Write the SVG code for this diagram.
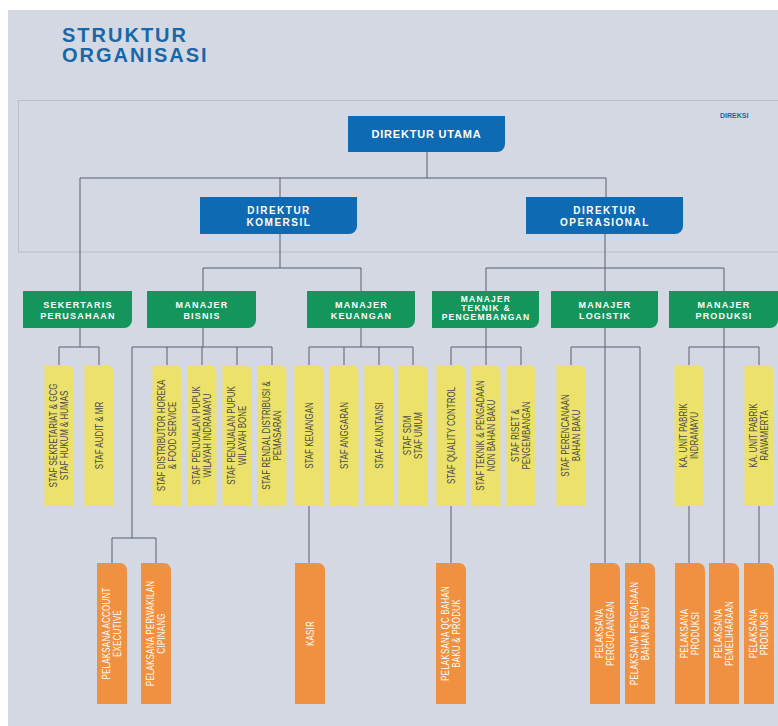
<svg xmlns="http://www.w3.org/2000/svg" width="778" height="726" viewBox="0 0 778 726">
<style>
.bg{fill:#d4d8e2}
.frame{fill:none;stroke:#b9bdc7;stroke-width:1}
.title{font-family:"Liberation Sans",Arial,sans-serif;font-weight:bold;font-size:20px;letter-spacing:2px;fill:#1767a9}
.dir{fill:#0d6ab3}
.mgr{fill:#13955b}
.staff{fill:#ebe16b}
.pel{fill:#ef9140}
.wt{font-family:"Liberation Sans",Arial,sans-serif;font-weight:bold;fill:#ffffff;text-anchor:middle}
.t10{font-size:10px;letter-spacing:1.5px}
.t9{font-size:9px;letter-spacing:1.2px}
.t85{font-size:8.5px;letter-spacing:1.2px}
.st{font-family:"Liberation Sans",Arial,sans-serif;font-size:10.5px;fill:#4a4a3e;text-anchor:middle}
.pt{font-family:"Liberation Sans",Arial,sans-serif;font-size:10.5px;fill:#ffffff;text-anchor:middle;letter-spacing:0.3px}
.con{fill:none;stroke:#59606c;stroke-width:1}
.lbl{font-family:"Liberation Sans",Arial,sans-serif;font-weight:bold;font-size:7px;fill:#1767a9}
</style>
<rect x="0" y="0" width="778" height="726" fill="#ffffff"/>
<rect class="bg" x="8" y="10" width="770" height="716"/>
<text class="title" x="62" y="42">STRUKTUR</text>
<text class="title" x="62" y="62">ORGANISASI</text>
<rect class="frame" x="18.5" y="100.5" width="770" height="151.5"/>
<text class="lbl" x="720" y="118">DIREKSI</text>

<g id="connectors" class="con">
<path d="M427 152V178M80 178H606M80 178V291M280 178V197M606 178V197"/>
<path d="M280 234V268M203 268H361M203 268V291M361 268V291"/>
<path d="M605 234V268M486 268H724M486 268V291M605 268V291M724 268V291"/>
<path d="M80 328V347M59 347H99M59 347V365M99 347V365"/>
<path d="M203 328V347M132 347H272M167 347V365M202 347V365M237 347V365M272 347V365M132 347V538M112 538H156M112 538V563M156 538V563"/>
<path d="M361 328V347M309 347H413M309 347V365M344 347V365M379 347V365M413 347V365M309 506V563"/>
<path d="M486 328V347M451 347H521M451 347V365M486 347V365M521 347V365M451 506V563"/>
<path d="M605 328V563M571 347H640M571 347V365M640 347V563"/>
<path d="M724 328V563M689 347H759M689 347V365M759 347V365M689 506V563M759 506V563"/>
</g>

<g id="direktur-utama"><path class="dir" d="M348 116H505V144A8 8 0 0 1 497 152H348Z"/><text class="wt t10" x="426.5" y="138" style="letter-spacing:0.8px;font-size:11px">DIREKTUR UTAMA</text></g>
<g id="direktur-komersil"><path class="dir" d="M200 197H357V226A8 8 0 0 1 349 234H200Z"/><text class="wt t10" x="279" y="214">DIREKTUR</text><text class="wt t10" x="279" y="226">KOMERSIL</text></g>
<g id="direktur-operasional"><path class="dir" d="M526 197H683V226A8 8 0 0 1 675 234H526Z"/><text class="wt t10" x="605" y="214">DIREKTUR</text><text class="wt t10" x="605" y="226">OPERASIONAL</text></g>

<g id="sekertaris"><path class="mgr" d="M23 291H132V320A8 8 0 0 1 124 328H23Z"/><text class="wt t9" x="78" y="308">SEKERTARIS</text><text class="wt t9" x="78" y="319">PERUSAHAAN</text></g>
<g id="manajer-bisnis"><path class="mgr" d="M147 291H256V320A8 8 0 0 1 248 328H147Z"/><text class="wt t9" x="202" y="308">MANAJER</text><text class="wt t9" x="202" y="319">BISNIS</text></g>
<g id="manajer-keuangan"><path class="mgr" d="M307 291H415V320A8 8 0 0 1 407 328H307Z"/><text class="wt t9" x="361.5" y="308">MANAJER</text><text class="wt t9" x="361.5" y="319">KEUANGAN</text></g>
<g id="manajer-teknik"><path class="mgr" d="M432 291H539V320A8 8 0 0 1 531 328H432Z"/><text class="wt t85" x="486" y="302">MANAJER</text><text class="wt t85" x="486" y="311">TEKNIK &amp;</text><text class="wt t85" x="486" y="320">PENGEMBANGAN</text></g>
<g id="manajer-logistik"><path class="mgr" d="M551 291H658V320A8 8 0 0 1 650 328H551Z"/><text class="wt t9" x="605" y="308">MANAJER</text><text class="wt t9" x="605" y="319">LOGISTIK</text></g>
<g id="manajer-produksi"><path class="mgr" d="M669 291H778V320A8 8 0 0 1 770 328H669Z"/><text class="wt t9" x="724" y="308">MANAJER</text><text class="wt t9" x="724" y="319">PRODUKSI</text></g>

<g id="staf-sekretariat"><path class="staff" d="M44.5 365H66.5A7 7 0 0 1 73.5 372V506H44.5Z"/><text class="st" transform="translate(59,435.5) rotate(-90) scale(0.76,1)"><tspan x="0" y="-2.5">STAF SEKRETARIAT &amp; GCG</tspan><tspan x="0" y="8.5">STAF HUKUM &amp; HUMAS</tspan></text></g>
<g id="staf-audit"><path class="staff" d="M84.5 365H106.5A7 7 0 0 1 113.5 372V506H84.5Z"/><text class="st" transform="translate(99,435.5) rotate(-90) scale(0.76,1)" y="3.5">STAF AUDIT &amp; MR</text></g>
<g id="staf-distributor"><path class="staff" d="M152.5 365H174.5A7 7 0 0 1 181.5 372V506H152.5Z"/><text class="st" transform="translate(167,435.5) rotate(-90) scale(0.76,1)"><tspan x="0" y="-2.5">STAF DISTRIBUTOR HOREKA</tspan><tspan x="0" y="8.5">&amp; FOOD SERVICE</tspan></text></g>
<g id="staf-penjualan-indramayu"><path class="staff" d="M187.5 365H209.5A7 7 0 0 1 216.5 372V506H187.5Z"/><text class="st" transform="translate(202,435.5) rotate(-90) scale(0.76,1)"><tspan x="0" y="-2.5">STAF PENJUALAN PUPUK</tspan><tspan x="0" y="8.5">WILAYAH INDRAMAYU</tspan></text></g>
<g id="staf-penjualan-bone"><path class="staff" d="M222.5 365H244.5A7 7 0 0 1 251.5 372V506H222.5Z"/><text class="st" transform="translate(237,435.5) rotate(-90) scale(0.76,1)"><tspan x="0" y="-2.5">STAF PENJUALAN PUPUK</tspan><tspan x="0" y="8.5">WILAYAH BONE</tspan></text></g>
<g id="staf-rendal"><path class="staff" d="M257.5 365H279.5A7 7 0 0 1 286.5 372V506H257.5Z"/><text class="st" transform="translate(272,435.5) rotate(-90) scale(0.76,1)"><tspan x="0" y="-2.5">STAF RENDAL DISTRIBUSI &amp;</tspan><tspan x="0" y="8.5">PEMASARAN</tspan></text></g>
<g id="staf-keuangan"><path class="staff" d="M294.5 365H316.5A7 7 0 0 1 323.5 372V506H294.5Z"/><text class="st" transform="translate(309,435.5) rotate(-90) scale(0.76,1)" y="3.5">STAF KEUANGAN</text></g>
<g id="staf-anggaran"><path class="staff" d="M329.5 365H351.5A7 7 0 0 1 358.5 372V506H329.5Z"/><text class="st" transform="translate(344,435.5) rotate(-90) scale(0.76,1)" y="3.5">STAF ANGGARAN</text></g>
<g id="staf-akuntansi"><path class="staff" d="M364.5 365H386.5A7 7 0 0 1 393.5 372V506H364.5Z"/><text class="st" transform="translate(379,435.5) rotate(-90) scale(0.76,1)" y="3.5">STAF AKUNTANSI</text></g>
<g id="staf-sdm"><path class="staff" d="M398.5 365H420.5A7 7 0 0 1 427.5 372V506H398.5Z"/><text class="st" transform="translate(413,435.5) rotate(-90) scale(0.76,1)"><tspan x="0" y="-2.5">STAF SDM</tspan><tspan x="0" y="8.5">STAF UMUM</tspan></text></g>
<g id="staf-qc"><path class="staff" d="M436.5 365H458.5A7 7 0 0 1 465.5 372V506H436.5Z"/><text class="st" transform="translate(451,435.5) rotate(-90) scale(0.76,1)" y="3.5">STAF QUALITY CONTROL</text></g>
<g id="staf-teknik"><path class="staff" d="M471.5 365H493.5A7 7 0 0 1 500.5 372V506H471.5Z"/><text class="st" transform="translate(486,435.5) rotate(-90) scale(0.76,1)"><tspan x="0" y="-2.5">STAF TEKNIK &amp; PENGADAAN</tspan><tspan x="0" y="8.5">NON BAHAN BAKU</tspan></text></g>
<g id="staf-riset"><path class="staff" d="M506.5 365H528.5A7 7 0 0 1 535.5 372V506H506.5Z"/><text class="st" transform="translate(521,435.5) rotate(-90) scale(0.76,1)"><tspan x="0" y="-2.5">STAF RISET &amp;</tspan><tspan x="0" y="8.5">PENGEMBANGAN</tspan></text></g>
<g id="staf-perencanaan"><path class="staff" d="M556.5 365H578.5A7 7 0 0 1 585.5 372V506H556.5Z"/><text class="st" transform="translate(571,435.5) rotate(-90) scale(0.76,1)"><tspan x="0" y="-2.5">STAF PERENCANAAN</tspan><tspan x="0" y="8.5">BAHAN BAKU</tspan></text></g>
<g id="ka-unit-indramayu"><path class="staff" d="M674.5 365H696.5A7 7 0 0 1 703.5 372V506H674.5Z"/><text class="st" transform="translate(689,435.5) rotate(-90) scale(0.76,1)"><tspan x="0" y="-2.5">KA. UNIT PABRIK</tspan><tspan x="0" y="8.5">INDRAMAYU</tspan></text></g>
<g id="ka-unit-rawamerta"><path class="staff" d="M744.5 365H766.5A7 7 0 0 1 773.5 372V506H744.5Z"/><text class="st" transform="translate(759,435.5) rotate(-90) scale(0.76,1)"><tspan x="0" y="-2.5">KA. UNIT PABRIK</tspan><tspan x="0" y="8.5">RAWAMERTA</tspan></text></g>

<g id="pelaksana-account"><path class="pel" d="M97 563H120A7 7 0 0 1 127 570V704H97Z"/><text class="pt" transform="translate(112,633.5) rotate(-90) scale(0.76,1)"><tspan x="0" y="-2.5">PELAKSANA ACCOUNT</tspan><tspan x="0" y="8.5">EXECUTIVE</tspan></text></g>
<g id="pelaksana-perwakilan"><path class="pel" d="M141 563H164A7 7 0 0 1 171 570V704H141Z"/><text class="pt" transform="translate(156,633.5) rotate(-90) scale(0.76,1)"><tspan x="0" y="-2.5">PELAKSANA PERWAKILAN</tspan><tspan x="0" y="8.5">CIPINANG</tspan></text></g>
<g id="kasir"><path class="pel" d="M295 563H318A7 7 0 0 1 325 570V704H295Z"/><text class="pt" transform="translate(310,633.5) rotate(-90) scale(0.76,1)" y="3.5">KASIR</text></g>
<g id="pelaksana-qc"><path class="pel" d="M436 563H459A7 7 0 0 1 466 570V704H436Z"/><text class="pt" transform="translate(451,633.5) rotate(-90) scale(0.76,1)"><tspan x="0" y="-2.5">PELAKSANA QC BAHAN</tspan><tspan x="0" y="8.5">BAKU &amp; PRODUK</tspan></text></g>
<g id="pelaksana-pergudangan"><path class="pel" d="M590 563H613A7 7 0 0 1 620 570V704H590Z"/><text class="pt" transform="translate(605,633.5) rotate(-90) scale(0.76,1)"><tspan x="0" y="-2.5">PELAKSANA</tspan><tspan x="0" y="8.5">PERGUDANGAN</tspan></text></g>
<g id="pelaksana-pengadaan"><path class="pel" d="M625 563H648A7 7 0 0 1 655 570V704H625Z"/><text class="pt" transform="translate(640,633.5) rotate(-90) scale(0.76,1)"><tspan x="0" y="-2.5">PELAKSANA PENGADAAN</tspan><tspan x="0" y="8.5">BAHAN BAKU</tspan></text></g>
<g id="pelaksana-produksi-1"><path class="pel" d="M675 563H698A7 7 0 0 1 705 570V704H675Z"/><text class="pt" transform="translate(690,633.5) rotate(-90) scale(0.76,1)"><tspan x="0" y="-2.5">PELAKSANA</tspan><tspan x="0" y="8.5">PRODUKSI</tspan></text></g>
<g id="pelaksana-pemeliharaan"><path class="pel" d="M709 563H732A7 7 0 0 1 739 570V704H709Z"/><text class="pt" transform="translate(724,633.5) rotate(-90) scale(0.76,1)"><tspan x="0" y="-2.5">PELAKSANA</tspan><tspan x="0" y="8.5">PEMELIHARAAN</tspan></text></g>
<g id="pelaksana-produksi-2"><path class="pel" d="M744 563H767A7 7 0 0 1 774 570V704H744Z"/><text class="pt" transform="translate(759,633.5) rotate(-90) scale(0.76,1)"><tspan x="0" y="-2.5">PELAKSANA</tspan><tspan x="0" y="8.5">PRODUKSI</tspan></text></g>
</svg>
